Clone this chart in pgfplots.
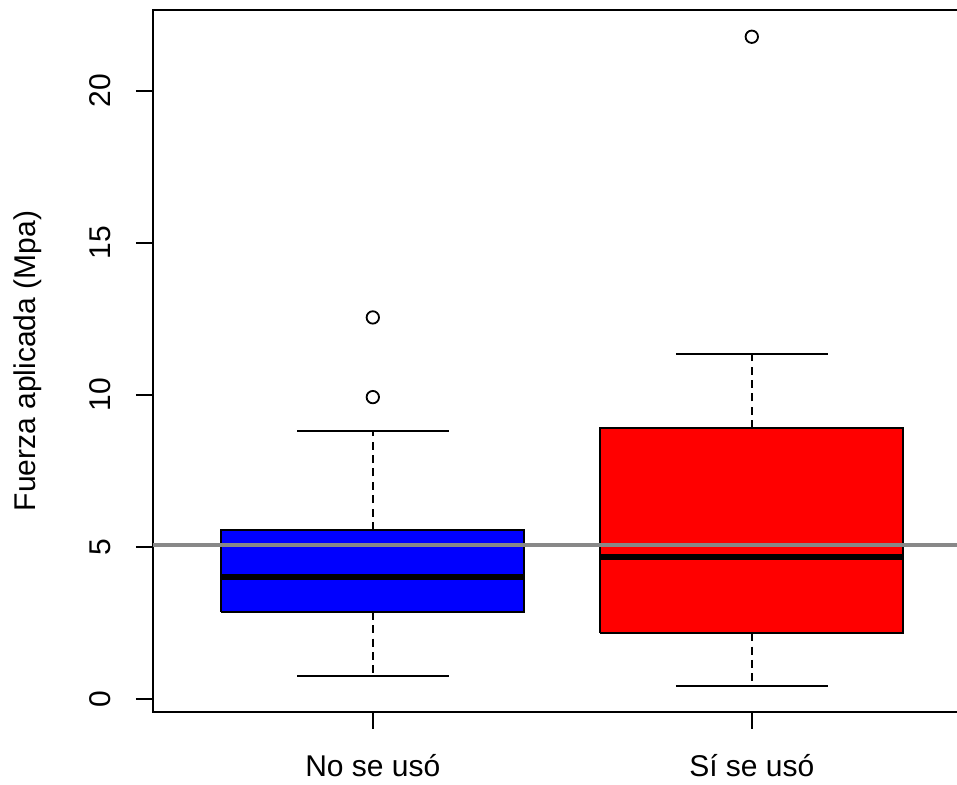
\documentclass[border=0pt]{standalone}
\usepackage{pgfplots}
\pgfplotsset{compat=1.18}
\usepackage{fontspec}
\setmainfont{Liberation Sans}
\definecolor{refline}{HTML}{888888}
\begin{document}
\begin{tikzpicture}
\begin{axis}[
  scale only axis,
  width=409.3pt, height=351pt,
  xmin=0.42, xmax=2.58,
  ymin=-0.424, ymax=22.66,
  xtick={1,2},
  xticklabels={No se usó, Sí se usó},
  ytick={0,5,10,15,20},
  tick pos=left,
  tick align=outside,
  major tick length=8.5pt,
  tick style={line width=1pt, black},
  axis line style={line width=1pt, black},
  /pgf/number format/assume math mode=true,
  tick label style={font=\fontsize{15}{18}\selectfont, inner sep=0pt},
  xticklabel style={anchor=base, yshift=-24pt},
  yticklabel style={xshift=-12.5pt, rotate=90, anchor=base},
  ylabel={Fuerza aplicada (Mpa)},
  ylabel style={font=\fontsize{15}{18}\selectfont, inner sep=0pt, at={(axis description cs:-0.1441,0.5)}, anchor=base},
  clip=true,
]
% Box 1 (No se usó)
\addplot[draw=black, line width=1pt, dash pattern=on 4pt off 2.7pt] coordinates {(1,5.56) (1,8.82)};
\addplot[draw=black, line width=1pt, dash pattern=on 4pt off 2.7pt] coordinates {(1,2.87) (1,0.77)};
\addplot[draw=black, line width=1pt] coordinates {(0.8,8.82) (1.2,8.82)};
\addplot[draw=black, line width=1pt] coordinates {(0.8,0.77) (1.2,0.77)};
\addplot[draw=black, fill=blue, line width=1pt, line join=miter] coordinates {(0.6,2.87) (1.4,2.87) (1.4,5.56) (0.6,5.56) (0.6,2.87)};
\addplot[draw=black, line width=3pt] coordinates {(0.6,4.02) (1.4,4.02)};
% Box 2 (Sí se usó)
\addplot[draw=black, line width=1pt, dash pattern=on 4pt off 2.7pt] coordinates {(2,8.91) (2,11.35)};
\addplot[draw=black, line width=1pt, dash pattern=on 4pt off 2.7pt] coordinates {(2,2.17) (2,0.43)};
\addplot[draw=black, line width=1pt] coordinates {(1.8,11.35) (2.2,11.35)};
\addplot[draw=black, line width=1pt] coordinates {(1.8,0.43) (2.2,0.43)};
\addplot[draw=black, fill=red, line width=1pt, line join=miter] coordinates {(1.6,2.17) (2.4,2.17) (2.4,8.91) (1.6,8.91) (1.6,2.17)};
\addplot[draw=black, line width=3pt] coordinates {(1.6,4.66) (2.4,4.66)};
% Outliers
\addplot[only marks, mark=o, mark size=3.1pt, mark options={line width=0.9pt, solid, draw=black}] coordinates {(1,9.93) (1,12.55) (2,21.78)};
% Reference line
\addplot[draw=refline, line width=2pt] coordinates {(0.42,5.08) (2.58,5.08)};
\end{axis}
\pgfresetboundingbox
\path[use as bounding box] ([shift={(-76.5pt,-36.5pt)}]current axis.south west) rectangle ([shift={(402pt,356pt)}]current axis.south west);
\end{tikzpicture}
\end{document}
